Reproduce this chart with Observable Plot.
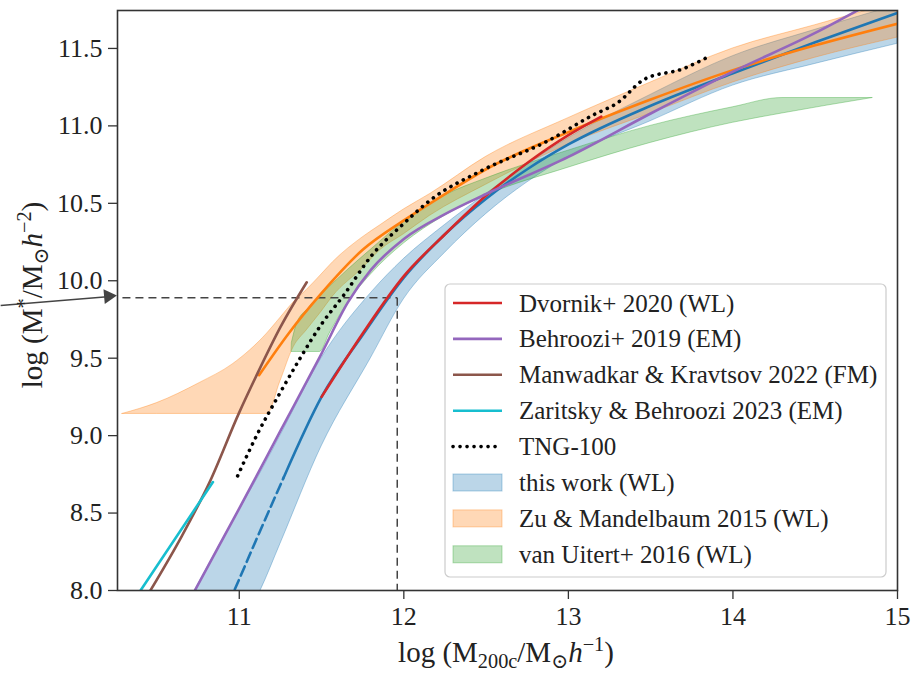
<!DOCTYPE html>
<html>
<head>
<meta charset="utf-8">
<script src="https://cdn.jsdelivr.net/npm/d3@7"></script>
<script src="https://cdn.jsdelivr.net/npm/@observablehq/plot@0.6"></script>
<style>
  body { margin: 0; background: #fff; }
  #chart { width: 915px; height: 673px; }
  #chart svg, #chart svg text { font-family: "Liberation Serif", "DejaVu Serif", serif; }
</style>
</head>
<body>
<div id="chart"></div>
<script>
// Axis ticks
const xTicks = [11, 12, 13, 14, 15];
const yTicks = [8.0, 8.5, 9.0, 9.5, 10.0, 10.5, 11.0, 11.5];

// this work (WL): 68% band
const workBandX  = [10.6, 10.73, 11.0, 11.13, 11.25, 11.5, 11.8, 12.0, 12.25, 12.5, 13.0, 13.5, 14.0, 14.5, 15.0];
const workBandHi = [7.75, 8.0, 8.52, 8.76, 9.0, 9.5, 9.92, 10.14, 10.36, 10.56, 10.92, 11.2, 11.45, 11.62, 11.78];
const workBandLo = [7.2, 7.45, 7.75, 8.0, 8.3, 8.93, 9.5, 9.88, 10.18, 10.43, 10.8, 11.03, 11.26, 11.4, 11.53];
// this work: median relation (measured range) and extrapolation
const workX    = [11.27, 11.5, 11.75, 12.0, 12.25, 12.5, 12.75, 13.0, 13.5, 14.0, 14.5, 15.0];
const workY    = [8.73, 9.25, 9.65, 10.02, 10.3, 10.53, 10.72, 10.88, 11.13, 11.34, 11.54, 11.73];
const workExtX = [10.9, 10.97, 11.1, 11.27];
const workExtY = [7.83, 8.0, 8.32, 8.73];

// Zu & Mandelbaum 2015 (WL)
const zuX    = [10.29, 10.5, 10.76, 10.96, 11.17, 11.25, 11.33, 11.41, 11.5, 11.57, 11.75, 11.86, 12.0, 12.16, 12.5, 13.0, 13.5, 14.0, 14.5, 15.0];
const zuHi   = [9.14, 9.21, 9.34, 9.46, 9.66, 9.76, 9.86, 9.94, 10.04, 10.12, 10.28, 10.36, 10.46, 10.56, 10.8, 11.05, 11.28, 11.5, 11.65, 11.8];
const zuLo   = [9.14, 9.14, 9.14, 9.14, 9.14, 9.35, 9.57, 9.68, 9.8, 9.9, 10.08, 10.2, 10.3, 10.42, 10.62, 10.88, 11.08, 11.28, 11.44, 11.57];
const zuLineX = [11.12, 11.3, 11.5, 11.75, 12.0, 12.25, 12.5, 13.0, 13.5, 14.0, 14.5, 15.0];
const zuLineY = [9.39, 9.66, 9.92, 10.2, 10.39, 10.56, 10.72, 10.96, 11.17, 11.36, 11.52, 11.66];

// van Uitert+ 2016 (WL)
const vuX  = [11.32, 11.35, 11.42, 11.49, 11.55, 11.65, 11.8, 12.0, 12.25, 12.5, 13.0, 13.5, 14.0, 14.3, 14.85];
const vuHi = [9.6, 9.72, 9.82, 9.9, 9.96, 10.06, 10.2, 10.38, 10.55, 10.66, 10.84, 11.0, 11.12, 11.18, 11.18];
const vuLo = [9.54, 9.54, 9.54, 9.54, 9.66, 9.84, 10.04, 10.24, 10.42, 10.55, 10.73, 10.89, 11.02, 11.08, 11.18];

// Dvornik+ 2020 (WL)
const dvX = [11.5, 11.75, 12.0, 12.25, 12.5, 12.75, 13.0, 13.2];
const dvY = [9.25, 9.66, 10.03, 10.3, 10.55, 10.76, 10.94, 11.06];

// Behroozi+ 2019 (EM)
const beX = [10.6, 10.73, 11.0, 11.25, 11.5, 11.66, 11.8, 12.0, 12.25, 12.5, 13.0, 13.5, 14.0, 14.5, 14.8];
const beY = [7.74, 8.0, 8.53, 9.03, 9.53, 9.86, 10.07, 10.27, 10.43, 10.56, 10.8, 11.08, 11.35, 11.6, 11.77];

// Manwadkar & Kravtsov 2022 (FM)
const mkX = [10.46, 10.65, 10.82, 11.0, 11.11, 11.25, 11.41];
const mkY = [8.0, 8.35, 8.7, 9.15, 9.4, 9.7, 9.99];

// Zaritsky & Behroozi 2023 (EM)
const zbX = [10.4, 10.84];
const zbY = [8.0, 8.7];

// TNG-100
const tngX = [10.99, 11.11, 11.25, 11.37, 11.5, 11.63, 11.81, 12.0, 12.16, 12.47, 12.87, 13.15, 13.3, 13.46, 13.7, 13.84];
const tngY = [8.74, 9.01, 9.28, 9.5, 9.72, 9.9, 10.17, 10.37, 10.52, 10.71, 10.9, 11.07, 11.15, 11.3, 11.37, 11.44];

// Guide: stellar mass and the halo mass it maps to
const guideStellar = 9.89;
const guideHaloStart = 10.29;
const guideHalo = 11.96;
// Arrow pointing at the stellar mass on the y axis
const arrowX = [9.55, 10.235];
const arrowY = [9.84, 9.9];

// Legend
const legendLabels = [
  "Dvornik+ 2020 (WL)",
  "Behroozi+ 2019 (EM)",
  "Manwadkar & Kravtsov 2022 (FM)",
  "Zaritsky & Behroozi 2023 (EM)",
  "TNG-100",
  "this work (WL)",
  "Zu & Mandelbaum 2015 (WL)",
  "van Uitert+ 2016 (WL)"
];
const legendKinds = ["line", "line", "line", "line", "dots", "patch", "patch", "patch"];

const C = {
  blue: "#1f77b4", orange: "#ff7f0e", green: "#2ca02c", red: "#d62728",
  purple: "#9467bd", brown: "#8c564b", cyan: "#17becf", black: "#000000"
};
const legendColors = [C.red, C.purple, C.brown, C.cyan, C.black, C.blue, C.orange, C.green];

const pts = (xs, ys) => xs.map((x, i) => ({x, y: ys[i]}));
const band = (xs, lo, hi) => xs.map((x, i) => ({x, lo: lo[i], hi: hi[i]}));

const FONT = "Liberation Serif, DejaVu Serif, serif";
const LW = 2.6;

const bandMark = (data, color) => Plot.areaY(data, {
  x: "x", y1: "lo", y2: "hi", fill: color, fillOpacity: 0.3,
  stroke: color, strokeOpacity: 0.35, strokeWidth: 1, curve: "monotone-x", clip: true
});
const lineMark = (data, color, extra = {}) => Plot.line(data, {
  x: "x", y: "y", stroke: color, strokeWidth: LW, curve: "monotone-x", clip: true, ...extra
});

const plot = Plot.plot({
  width: 915,
  height: 673,
  marginLeft: 117,
  marginRight: 18,
  marginTop: 10,
  marginBottom: 83,
  style: {fontFamily: FONT, color: "#222", background: "#fff", overflow: "visible"},
  x: {domain: [10.26, 15], label: null},
  y: {domain: [8, 11.745], label: null},
  marks: [
    bandMark(band(workBandX, workBandLo, workBandHi), C.blue),
    bandMark(band(zuX, zuLo, zuHi), C.orange),
    bandMark(band(vuX, vuLo, vuHi), C.green),
    // guide lines
    Plot.link([{x1: guideHaloStart, y1: guideStellar, x2: guideHalo, y2: guideStellar},
               {x1: guideHalo, y1: guideStellar, x2: guideHalo, y2: 8}], {
      x1: "x1", y1: "y1", x2: "x2", y2: "y2",
      stroke: "#444", strokeWidth: 1.5, strokeDasharray: "8,5"
    }),
    lineMark(pts(workExtX, workExtY), C.blue, {strokeDasharray: "10,5"}),
    lineMark(pts(workX, workY), C.blue),
    lineMark(pts(zuLineX, zuLineY), C.orange),
    lineMark(pts(dvX, dvY), C.red),
    lineMark(pts(beX, beY), C.purple),
    lineMark(pts(mkX, mkY), C.brown),
    lineMark(pts(zbX, zbY), C.cyan),
    lineMark(pts(tngX, tngY), C.black, {strokeWidth: 3.6, strokeDasharray: "0.1,6.9", strokeLinecap: "round"}),
    // arrow
    Plot.link([{x1: arrowX[0], y1: arrowY[0], x2: arrowX[1], y2: arrowY[1]}], {
      x1: "x1", y1: "y1", x2: "x2", y2: "y2", stroke: "#444", strokeWidth: 1.5
    }),
    Plot.dot([{x: arrowX[1], y: arrowY[1]}], {
      x: "x", y: "y", symbol: "triangle", r: 5.5, fill: "#444", stroke: "none", rotate: 85, dx: -5
    }),
    Plot.axisX({ticks: xTicks, tickFormat: d => String(d), tickSize: 9, tickPadding: 7,
      fontSize: 26, fontFamily: FONT, stroke: "#333", strokeWidth: 1.3}),
    Plot.axisY({ticks: yTicks, tickFormat: d3.format(".1f"), tickSize: 9, tickPadding: 6,
      fontSize: 26, fontFamily: FONT, stroke: "#333", strokeWidth: 1.3}),
    Plot.frame({stroke: "#333", strokeWidth: 1.6})
  ]
});

document.getElementById("chart").appendChild(plot);

const svg = d3.select(plot);

// Rich text helper: parts with optional sub / sup / italic
function richText(g, parts, size) {
  const text = g.append("text").attr("font-family", FONT).attr("font-size", size).attr("fill", "#222");
  let shift = 0;
  for (const p of parts) {
    const target = p.sub ? 0.22 * size : p.sup ? -0.38 * size : 0;
    const t = text.append("tspan").text(p.t).attr("dy", target - shift);
    if (p.sub || p.sup) t.attr("font-size", size * 0.7);
    if (p.it) t.attr("font-style", "italic");
    shift = target;
  }
  return text;
}

// x-axis label
richText(svg.append("g").attr("transform", "translate(506,662)"), [
  {t: "log (M"}, {t: "200c", sub: true}, {t: "/M"}, {t: "\u2299", sub: true},
  {t: "h", it: true}, {t: "\u22121", sup: true}, {t: ")"}
], 29).attr("text-anchor", "middle");

// y-axis label
richText(svg.append("g").attr("transform", "translate(42,295) rotate(-90)"), [
  {t: "log (M"}, {t: "*", sup: true}, {t: "/M"}, {t: "\u2299", sub: true},
  {t: "h", it: true}, {t: "\u22122", sup: true}, {t: ")"}
], 29).attr("text-anchor", "middle");

// legend
const lg = svg.append("g").attr("transform", "translate(445,284)");
lg.append("rect").attr("width", 441).attr("height", 293).attr("rx", 5)
  .attr("fill", "#fff").attr("fill-opacity", 0.8).attr("stroke", "#ccc").attr("stroke-width", 1.2);
legendLabels.forEach((label, i) => {
  const cy = 19 + i * 35.9;
  const color = legendColors[i];
  const kind = legendKinds[i];
  if (kind === "patch") {
    lg.append("rect").attr("x", 8).attr("y", cy - 8.5).attr("width", 49).attr("height", 17)
      .attr("fill", color).attr("fill-opacity", 0.3).attr("stroke", color).attr("stroke-opacity", 0.35);
  } else {
    const l = lg.append("line").attr("x1", 8).attr("x2", 57).attr("y1", cy).attr("y2", cy)
      .attr("stroke", color).attr("stroke-width", kind === "dots" ? 3.6 : LW);
    if (kind === "dots") l.attr("stroke-dasharray", "0.1,6.9").attr("stroke-linecap", "round");
  }
  lg.append("text").attr("x", 74).attr("y", cy + 8.5).attr("text-anchor", "start")
    .attr("font-family", FONT).attr("font-size", 25).attr("fill", "#222").text(label);
});
</script>
</body>
</html>
